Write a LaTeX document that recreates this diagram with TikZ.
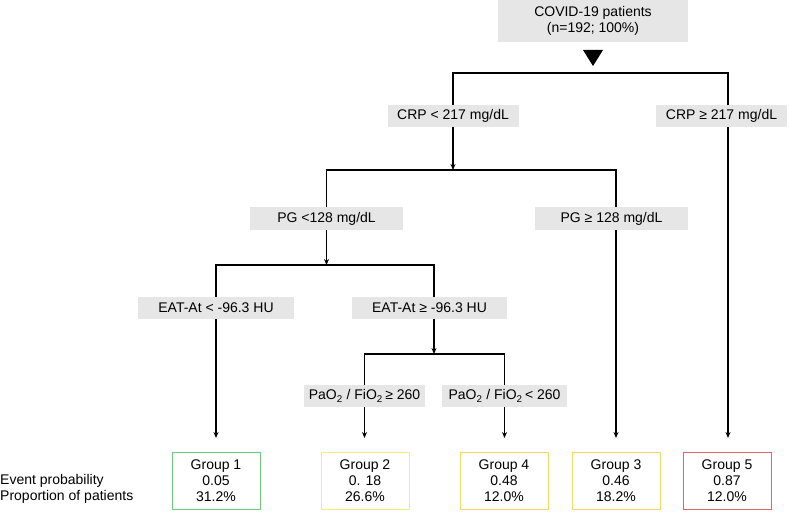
\documentclass[tikz,border=0pt]{standalone}
\usepackage{fontspec}
\setmainfont{Liberation Sans}
\usetikzlibrary{arrows.meta}

\definecolor{condgray}{RGB}{230,230,230}
\definecolor{lowrisk}{RGB}{110,205,120}
\definecolor{midrisk}{RGB}{244,238,120}
\definecolor{highrisk}{RGB}{248,212,105}
\definecolor{toprisk}{RGB}{214,104,108}

\begin{document}
\begin{tikzpicture}[x=1pt, y=-1pt,
    every node/.style={font=\fontsize{14}{16}\selectfont},
    cond/.style={fill=condgray, minimum height=23pt, inner sep=0pt},
    grp/.style={draw=#1, line width=1pt, minimum width=88pt, minimum height=57pt, inner sep=0pt, align=center},
    link/.style={line width=1.4pt},
    arr/.style={link, -{Stealth[length=6pt,width=5pt]}}]
  \useasboundingbox (0,0) rectangle (789,511);

  % Root and first split
  \node[cond, minimum width=190pt, minimum height=42pt, align=center] (root) at (593,21)
    {COVID-19 patients\\(n=192; 100\%)};
  \fill (583,50) -- (603,50) -- (593,66) -- cycle;

  \node[cond, minimum width=131pt, minimum height=22pt] (crplo) at (453,116) {CRP < 217 mg/dL};
  \node[cond, minimum width=131pt, minimum height=22pt] (crphi) at (721.5,116) {CRP ≥ 217 mg/dL};

  % Second and third splits
  \node[cond, minimum width=153pt] (pglo) at (326.5,218.5) {PG <128 mg/dL};
  \node[cond, minimum width=153pt] (pghi) at (611.5,218.5) {PG ≥ 128 mg/dL};
  \node[cond, minimum width=156pt, minimum height=22pt] (eatlo) at (216,308) {EAT-At < -96.3 HU};
  \node[cond, minimum width=155pt, minimum height=22pt] (eathi) at (429.5,308) {EAT-At ≥ -96.3 HU};
  \node[cond, minimum width=121pt, minimum height=22pt] (paohi) at (364.5,396)
    {PaO\textsubscript{2} / FiO\textsubscript{2}\,≥ 260};
  \node[cond, minimum width=125pt, minimum height=22pt] (paolo) at (504.5,396)
    {PaO\textsubscript{2} / FiO\textsubscript{2}\,< 260};

  % Groups
  \node[grp=lowrisk] (g1) at (216,480.5) {Group 1\\0.05\\31.2\%};
  \node[grp=midrisk] (g2) at (365,480.5) {Group 2\\0. 18\\26.6\%};
  \node[grp=highrisk] (g4) at (504,480.5) {Group 4\\0.48\\12.0\%};
  \node[grp=highrisk] (g3) at (616,480.5) {Group 3\\0.46\\18.2\%};
  \node[grp=toprisk] (g5) at (727,480.5) {Group 5\\0.87\\12.0\%};
  \node[anchor=west, align=left, inner sep=0pt] (rowlbl) at (0,489) {Event probability\\Proportion of patients};

  % Split levels and columns
  \coordinate (s0) at (0,73);
  \coordinate (s1) at (0,170);
  \coordinate (s2) at (0,265);
  \coordinate (s3) at (0,354);
  \coordinate (gtop) at (0,438);
  \coordinate (rcol) at ([xshift=6.5pt]crphi.north);
  \coordinate (rcolb) at ([xshift=6.5pt]crphi.south);
  \coordinate (pgcol) at ([xshift=4.5pt]pghi.north);
  \coordinate (pgcolb) at ([xshift=4.5pt]pghi.south);
  \coordinate (eatcol) at ([xshift=4.5pt]eathi.north);
  \coordinate (eatcolb) at ([xshift=4.5pt]eathi.south);

  % Connectors
  \draw[link] (crplo.north) -- (crplo.north |- s0) -| (rcol);
  \draw[arr] (crplo.south) -- (crplo.south |- s1);
  \draw[link] (pglo.north) -- (pglo.north |- s1) -| (pgcol);
  \draw[arr] (pglo.south) -- (pglo.south |- s2);
  \draw[link] (eatlo.north) -- (eatlo.north |- s2) -| (eatcol);
  \draw[arr] (eatcolb) -- (eatcolb |- s3);
  \draw[link] (paohi.north) -- (paohi.north |- s3) -| (paolo.north);

  \draw[arr] (eatlo.south) -- (eatlo.south |- gtop);
  \draw[arr] (paohi.south) -- (paohi.south |- gtop);
  \draw[arr] (paolo.south) -- (paolo.south |- gtop);
  \draw[arr] (pgcolb) -- (pgcolb |- gtop);
  \draw[arr] (rcolb) -- (rcolb |- gtop);
\end{tikzpicture}
\end{document}
